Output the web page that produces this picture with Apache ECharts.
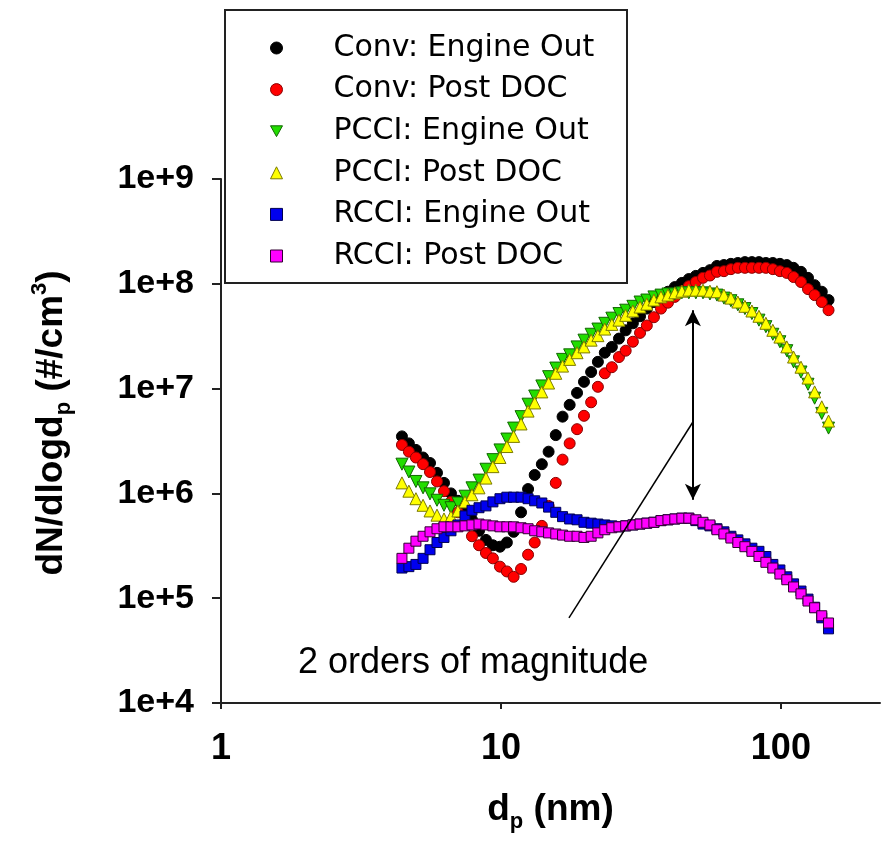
<!DOCTYPE html>
<html lang="en">
<head>
<meta charset="UTF-8">
<title>Particle size distributions</title>
<script src="https://cdn.jsdelivr.net/npm/echarts@6/dist/echarts.min.js"></script>
<style>
  html, body { margin: 0; padding: 0; background: #fff; }
  #main { width: 886px; height: 852px; }
</style>
</head>
<body>
<div id="main"></div>
<script>
// particle diameters, nm (shared by all runs)
var diameters = [4.43, 4.69, 4.97, 5.27, 5.58, 5.91, 6.26, 6.63, 7.02, 7.44,
  7.88, 8.35, 8.84, 9.36, 9.92, 10.5, 11.1, 11.8, 12.5, 13.2,
  14.0, 14.8, 15.7, 16.6, 17.6, 18.7, 19.8, 21.0, 22.2, 23.5,
  24.9, 26.4, 27.9, 29.6, 31.4, 33.2, 35.2, 37.3, 39.5, 41.8,
  44.3, 46.9, 49.7, 52.7, 55.8, 59.1, 62.6, 66.3, 70.2, 74.4,
  78.8, 83.5, 88.4, 93.6, 99.2, 105, 111, 118, 125, 132, 140, 148];

// dN/dlogdp, #/cm3
var convEngineOut = [3.5e6, 3.0e6, 2.6e6, 2.2e6, 1.95e6, 1.57e6, 1.26e6, 1.0e6, 8.5e5, 6.9e5,
  5.6e5, 4.4e5, 3.6e5, 3.2e5, 3.1e5, 3.4e5, 4.3e5, 6.6e5, 1.1e6, 1.5e6,
  1.9e6, 2.5e6, 3.6e6, 5.4e6, 7.0e6, 9.1e6, 1.16e7, 1.44e7, 1.8e7, 2.2e7,
  2.5e7, 3.0e7, 3.6e7, 4.2e7, 4.9e7, 5.8e7, 6.7e7, 7.7e7, 8.4e7, 9.3e7,
  1.02e8, 1.11e8, 1.19e8, 1.27e8, 1.35e8, 1.48e8, 1.51e8, 1.55e8, 1.58e8, 1.61e8,
  1.61e8, 1.61e8, 1.58e8, 1.58e8, 1.55e8, 1.51e8, 1.42e8, 1.3e8, 1.14e8, 9.7e7, 8.4e7, 7.0e7];
var convPostDoc = [2.9e6, 2.5e6, 2.2e6, 1.9e6, 1.6e6, 1.3e6, 1.05e6, 8.3e5, 6.6e5, 5.1e5,
  3.9e5, 3.2e5, 2.7e5, 2.4e5, 2.0e5, 1.8e5, 1.6e5, 1.9e5, 2.6e5, 3.4e5,
  4.9e5, 7.6e5, 1.26e6, 2.1e6, 3.0e6, 4.1e6, 5.5e6, 7.4e6, 1.04e7, 1.4e7,
  1.6e7, 2.0e7, 2.3e7, 2.8e7, 3.4e7, 4.0e7, 4.8e7, 5.8e7, 6.6e7, 7.5e7,
  8.5e7, 9.5e7, 1.04e8, 1.14e8, 1.2e8, 1.3e8, 1.32e8, 1.38e8, 1.42e8, 1.42e8,
  1.42e8, 1.42e8, 1.42e8, 1.38e8, 1.32e8, 1.27e8, 1.16e8, 1.04e8, 8.9e7, 7.8e7, 6.7e7, 5.6e7];
var pcciEngineOut = [1.9e6, 1.6e6, 1.3e6, 1.13e6, 9.9e5, 8.6e5, 7.7e5, 7.3e5, 8.1e5, 9.4e5,
  1.13e6, 1.34e6, 1.7e6, 2.1e6, 2.6e6, 3.3e6, 4.2e6, 5.4e6, 7.1e6, 8.5e6,
  1.06e7, 1.3e7, 1.57e7, 1.9e7, 2.1e7, 2.5e7, 2.9e7, 3.3e7, 3.7e7, 4.2e7,
  4.7e7, 5.2e7, 5.6e7, 6.1e7, 6.7e7, 7.0e7, 7.5e7, 7.8e7, 8.0e7, 8.0e7,
  8.2e7, 8.2e7, 8.2e7, 8.2e7, 8.0e7, 7.8e7, 7.3e7, 6.9e7, 6.3e7, 5.8e7,
  5.2e7, 4.5e7, 3.9e7, 3.3e7, 2.8e7, 2.3e7, 1.8e7, 1.44e7, 1.1e7, 8.1e6, 5.8e6, 4.2e6];
var pcciPostDoc = [1.26e6, 1.05e6, 8.9e5, 7.7e5, 6.8e5, 6.2e5, 5.7e5, 6.0e5, 6.8e5, 8.3e5,
  9.7e5, 1.13e6, 1.4e6, 1.8e6, 2.2e6, 2.8e6, 3.5e6, 4.6e6, 6.1e6, 7.3e6,
  9.3e6, 1.13e7, 1.4e7, 1.64e7, 1.9e7, 2.2e7, 2.5e7, 2.9e7, 3.2e7, 3.7e7,
  4.1e7, 4.5e7, 5.0e7, 5.5e7, 6.0e7, 6.4e7, 7.0e7, 7.5e7, 7.8e7, 8.2e7,
  8.5e7, 8.7e7, 8.7e7, 8.7e7, 8.5e7, 8.4e7, 7.8e7, 7.3e7, 6.7e7, 6.1e7,
  5.5e7, 4.9e7, 4.2e7, 3.6e7, 3.1e7, 2.5e7, 2.0e7, 1.6e7, 1.26e7, 9.3e6, 6.7e6, 4.9e6];
var rcciEngineOut = [1.94e5, 2.0e5, 2.1e5, 2.4e5, 2.9e5, 3.4e5, 3.8e5, 4.4e5, 5.0e5, 6.1e5,
  6.9e5, 7.3e5, 7.6e5, 8.3e5, 8.9e5, 9.2e5, 9.2e5, 9.2e5, 8.9e5, 8.5e5,
  8.1e5, 7.4e5, 6.6e5, 6.0e5, 5.7e5, 5.6e5, 5.3e5, 5.2e5, 5.1e5, 5.0e5,
  4.9e5, 4.8e5, 4.9e5, 5.0e5, 5.1e5, 5.2e5, 5.3e5, 5.5e5, 5.6e5, 5.7e5,
  5.8e5, 5.8e5, 5.5e5, 5.1e5, 4.9e5, 4.6e5, 4.3e5, 3.9e5, 3.6e5, 3.3e5,
  3.0e5, 2.8e5, 2.5e5, 2.1e5, 1.86e5, 1.6e5, 1.37e5, 1.17e5, 9.8e4, 8.2e4, 6.5e4, 5.1e4];
var rcciPostDoc = [2.4e5, 3.0e5, 3.5e5, 3.9e5, 4.3e5, 4.6e5, 4.8e5, 4.8e5, 4.8e5, 4.9e5,
  5.0e5, 5.1e5, 5.0e5, 4.9e5, 4.8e5, 4.8e5, 4.8e5, 4.7e5, 4.6e5, 4.4e5,
  4.3e5, 4.2e5, 4.1e5, 4.0e5, 3.9e5, 3.9e5, 3.8e5, 3.9e5, 4.2e5, 4.5e5,
  4.7e5, 4.8e5, 4.9e5, 5.0e5, 5.1e5, 5.2e5, 5.3e5, 5.5e5, 5.6e5, 5.7e5,
  5.8e5, 5.8e5, 5.6e5, 5.3e5, 5.0e5, 4.5e5, 4.1e5, 3.75e5, 3.4e5, 3.1e5,
  2.8e5, 2.5e5, 2.2e5, 1.94e5, 1.7e5, 1.5e5, 1.28e5, 1.1e5, 9.4e4, 8.1e4, 6.8e4, 5.8e4];

var xTickValues = [1, 10, 100];

// annotation: double arrow between PCCI peak and RCCI level, plus pointer line
var arrowX = 48.5, arrowTop = 5.6e7, arrowBottom = 8.7e5;
var pointerStart = [17.5, 6.5e4], pointerEnd = [48.5, 4.8e6];

function pairs(ys) {
  return diameters.map(function (d, i) { return [d, ys[i]]; });
}

var FONT = '"Liberation Sans", Arial, sans-serif';
var DOWN_TRIANGLE = 'path://M0,0L20,0L10,18Z';

var runs = [
  { name: 'Conv: Engine Out', data: convEngineOut, symbol: 'circle', size: 11, fill: '#000000', edge: '#000000' },
  { name: 'Conv: Post DOC', data: convPostDoc, symbol: 'circle', size: 11, fill: '#ff0000', edge: '#8a0000' },
  { name: 'PCCI: Engine Out', data: pcciEngineOut, symbol: DOWN_TRIANGLE, size: 12, fill: '#22dd00', edge: '#106600' },
  { name: 'PCCI: Post DOC', data: pcciPostDoc, symbol: 'triangle', size: 12, fill: '#ffff00', edge: '#7a7a00' },
  { name: 'RCCI: Engine Out', data: rcciEngineOut, symbol: 'rect', size: 10, fill: '#0000ee', edge: '#000050' },
  { name: 'RCCI: Post DOC', data: rcciPostDoc, symbol: 'rect', size: 10, fill: '#ff00ff', edge: '#300030' }
];

var series = runs.map(function (r) {
  return {
    name: r.name,
    type: 'scatter',
    data: pairs(r.data),
    symbol: r.symbol,
    symbolSize: r.size,
    itemStyle: { color: r.fill, borderColor: r.edge, borderWidth: 1, opacity: 1 },
    emphasis: { disabled: true }
  };
});

series.push({
  type: 'scatter',
  data: [],
  silent: true,
  markLine: {
    silent: true,
    animation: false,
    label: { show: false },
    emphasis: { disabled: true },
    data: [
      [
        { coord: [arrowX, arrowTop], symbol: 'arrow', symbolSize: [12, 16], lineStyle: { color: '#000', width: 2, type: 'solid' } },
        { coord: [arrowX, arrowBottom], symbol: 'arrow', symbolSize: [12, 16] }
      ],
      [
        { coord: pointerStart, symbol: 'none', lineStyle: { color: '#000', width: 1.5, type: 'solid' } },
        { coord: pointerEnd, symbol: 'none' }
      ]
    ]
  }
});

var chart = echarts.init(document.getElementById('main'));

chart.setOption({
  animation: false,
  backgroundColor: '#ffffff',
  grid: { left: 221, right: 6, top: 179, bottom: 149, containLabel: false },
  xAxis: {
    type: 'log',
    logBase: 10,
    min: 1,
    max: 226,
    name: '{b|d}{s|p}{b| (nm)}',
    nameLocation: 'middle',
    nameGap: 84,
    nameTextStyle: {
      rich: {
        b: { fontFamily: FONT, fontWeight: 'bold', fontSize: 37, color: '#000', lineHeight: 46, verticalAlign: 'middle' },
        s: { fontFamily: FONT, fontWeight: 'bold', fontSize: 22, color: '#000', lineHeight: 46, verticalAlign: 'bottom' }
      }
    },
    axisLine: { show: true, onZero: false, lineStyle: { color: '#222', width: 2 } },
    axisTick: { show: true, inside: false, length: 6, customValues: xTickValues, lineStyle: { color: '#222', width: 2 } },
    axisLabel: {
      customValues: xTickValues,
      fontFamily: FONT, fontWeight: 'bold', fontSize: 36, color: '#000', margin: 28,
      formatter: function (v) { return String(Math.round(v)); }
    },
    splitLine: { show: false },
    minorTick: { show: false }
  },
  yAxis: {
    type: 'log',
    logBase: 10,
    min: 1e4,
    max: 1e9,
    name: '{b|dN/dlogd}{s|p}{b| (#/cm}{u|3}{b|)}',
    nameLocation: 'middle',
    nameRotate: 90,
    nameGap: 146,
    nameTextStyle: {
      padding: [0, 0, 0, 36],
      rich: {
        b: { fontFamily: FONT, fontWeight: 'bold', fontSize: 37, color: '#000', lineHeight: 46, verticalAlign: 'middle' },
        s: { fontFamily: FONT, fontWeight: 'bold', fontSize: 22, color: '#000', lineHeight: 46, verticalAlign: 'bottom' },
        u: { fontFamily: FONT, fontWeight: 'bold', fontSize: 22, color: '#000', lineHeight: 46, verticalAlign: 'top' }
      }
    },
    axisLine: { show: true, onZero: false, lineStyle: { color: '#222', width: 2 } },
    axisTick: { show: true, inside: false, length: 9, lineStyle: { color: '#222', width: 2 } },
    axisLabel: {
      fontFamily: FONT, fontWeight: 'bold', fontSize: 34, color: '#000', margin: 27,
      formatter: function (v) { return '1e+' + Math.round(Math.log10(v)); }
    },
    splitLine: { show: false },
    minorTick: { show: false }
  },
  legend: {
    orient: 'vertical',
    left: 265,
    top: 28,
    itemWidth: 12,
    itemHeight: 12,
    itemGap: 11.6,
    selectedMode: false,
    z: 10,
    data: runs.map(function (r) {
      return { name: r.name, icon: r.symbol, itemStyle: { color: r.fill, borderColor: r.edge, borderWidth: 1 } };
    }),
    textStyle: { fontFamily: '"DejaVu Sans", sans-serif', fontSize: 30, color: '#000', padding: [0, 0, 0, 46], lineHeight: 29 }
  },
  graphic: [
    {
      type: 'rect', z: 1,
      shape: { x: 225, y: 10, width: 402, height: 273 },
      style: { fill: '#ffffff', stroke: '#222', lineWidth: 2 }
    },
    {
      type: 'text', z: 5,
      left: 298, top: 645,
      style: { text: '2 orders of magnitude', font: '36px ' + FONT, fill: '#000' }
    }
  ],
  series: series
});
</script>
</body>
</html>
